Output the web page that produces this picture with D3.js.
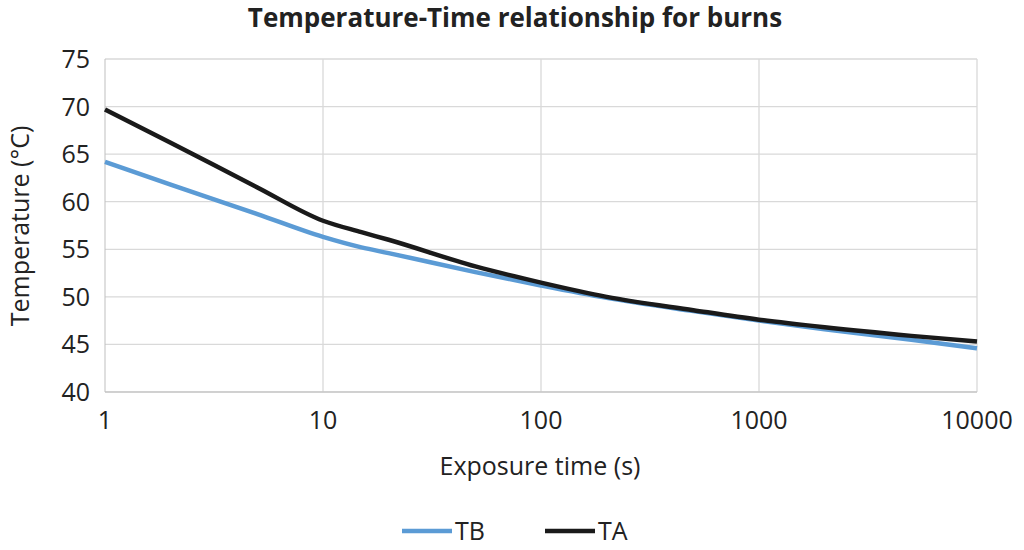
<!DOCTYPE html>
<html><head><meta charset="utf-8">
<script src="https://cdn.jsdelivr.net/npm/d3@7"></script>
<style>body{margin:0;background:#fff}svg{font-family:"Open Sans",sans-serif}</style>
</head><body><svg id="c" width="1024" height="550"></svg>
<script>
const times=[1,2,5,10,15,20,50,100,200,500,1000,2000,5000,10000];
const tb=[64.2,61.8,58.7,56.3,55.2,54.6,52.6,51.2,49.9,48.5,47.5,46.6,45.5,44.6];
const ta=[69.7,66.2,61.5,58.0,56.8,56.0,53.2,51.5,50.0,48.6,47.6,46.8,45.9,45.3];
const xTicks=[1,10,100,1000,10000];
const yTicks=[40,45,50,55,60,65,70,75];
const svg=d3.select("#c");
const x=d3.scaleLog().domain([1,10000]).range([105,977]);
const y=d3.scaleLinear().domain([40,75]).range([392,59]);
svg.append("g").selectAll("line").data(yTicks).join("line")
 .attr("x1",105).attr("x2",977).attr("y1",d=>y(d)).attr("y2",d=>y(d)).attr("stroke","#d9d9d9").attr("stroke-width",1.3);
svg.append("g").selectAll("line").data(xTicks.slice(1)).join("line")
 .attr("x1",d=>x(d)).attr("x2",d=>x(d)).attr("y1",59).attr("y2",392).attr("stroke","#d9d9d9").attr("stroke-width",1.3);
svg.append("line").attr("x1",105).attr("x2",105).attr("y1",59).attr("y2",392).attr("stroke","#bfbfbf");
svg.append("line").attr("x1",105).attr("x2",977).attr("y1",392).attr("y2",392).attr("stroke","#bfbfbf");
svg.append("g").selectAll("text").data(yTicks).join("text")
 .attr("x",90).attr("y",d=>y(d)+9).attr("text-anchor","end").attr("font-size",25).attr("fill","#222").text(d=>d);
svg.append("g").selectAll("text").data(xTicks).join("text")
 .attr("x",d=>x(d)).attr("y",429).attr("text-anchor","middle").attr("font-size",25).attr("fill","#222").text(d=>d);
const line=d3.line().x((d,i)=>x(times[i])).y(d=>y(d)).curve(d3.curveMonotoneX);
svg.append("path").attr("d",line(tb)).attr("fill","none").attr("stroke","#5b9bd5").attr("stroke-width",4.5);
svg.append("path").attr("d",line(ta)).attr("fill","none").attr("stroke","#1a1a1a").attr("stroke-width",4.5);
svg.append("text").attr("x",515).attr("y",27).attr("text-anchor","middle").attr("font-size",26).attr("font-weight","bold").attr("fill","#222").text("Temperature-Time relationship for burns");
svg.append("text").attr("x",540).attr("y",475).attr("text-anchor","middle").attr("font-size",25).attr("fill","#222").text("Exposure time (s)");
svg.append("text").attr("transform","translate(29,226) rotate(-90)").attr("text-anchor","middle").attr("font-size",25).attr("fill","#222").text("Temperature (°C)");
const leg=[{n:"TB",c:"#5b9bd5",x:402},{n:"TA",c:"#1a1a1a",x:545}];
leg.forEach(l=>{svg.append("line").attr("x1",l.x).attr("x2",l.x+50).attr("y1",531).attr("y2",531).attr("stroke",l.c).attr("stroke-width",4.5);
svg.append("text").attr("x",l.x+53).attr("y",540).attr("font-size",25).attr("fill","#222").text(l.n);});
</script></body></html>
